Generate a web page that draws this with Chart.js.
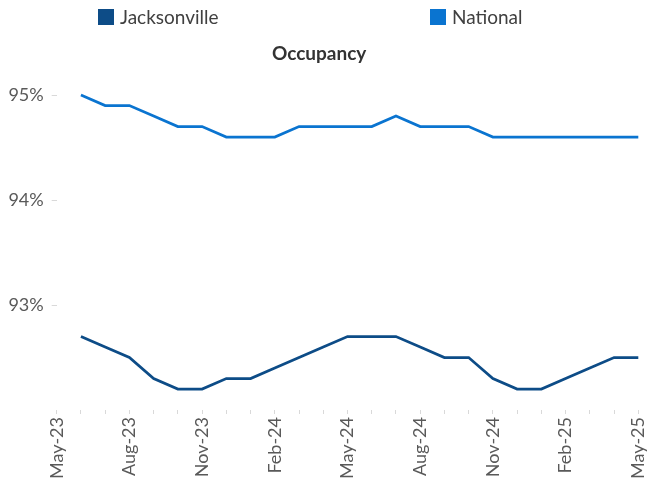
<!DOCTYPE html>
<html>
<head>
<meta charset="utf-8">
<script src="https://cdn.jsdelivr.net/npm/chart.js@4/dist/chart.umd.min.js"></script>
<style>
  html, body { margin: 0; padding: 0; background: #ffffff; }
  #wrap { width: 647px; height: 482px; position: relative; }
</style>
</head>
<body>
<div id="wrap"><canvas id="c" width="647" height="482"></canvas></div>
<script>
// ---- Data ----
const categories = ['May-23','Jun-23','Jul-23','Aug-23','Sep-23','Oct-23','Nov-23','Dec-23','Jan-24','Feb-24','Mar-24','Apr-24','May-24','Jun-24','Jul-24','Aug-24','Sep-24','Oct-24','Nov-24','Dec-24','Jan-25','Feb-25','Mar-25','Apr-25','May-25'];
const shownLabels = ['May-23','Aug-23','Nov-23','Feb-24','May-24','Aug-24','Nov-24','Feb-25','May-25'];
const jacksonville = [null, 92.7, 92.6, 92.5, 92.3, 92.2, 92.2, 92.3, 92.3, 92.4, 92.5, 92.6, 92.7, 92.7, 92.7, 92.6, 92.5, 92.5, 92.3, 92.2, 92.2, 92.3, 92.4, 92.5, 92.5];
const national     = [null, 95.0, 94.9, 94.9, 94.8, 94.7, 94.7, 94.6, 94.6, 94.6, 94.7, 94.7, 94.7, 94.7, 94.8, 94.7, 94.7, 94.7, 94.6, 94.6, 94.6, 94.6, 94.6, 94.6, 94.6];
const yTicks = [93, 94, 95];
const seriesNames = ['Jacksonville', 'National'];
const chartTitle = 'Occupancy';

const FONT = 'Lato, "Open Sans", sans-serif';
const colJax = '#0D4C87';
const colNat = '#0A74D0';

// custom legend placed like the reference (spread-out entries)
const spreadLegend = {
  id: 'spreadLegend',
  afterDraw(chart) {
    const ctx = chart.ctx;
    const xs = [98, 430];
    ctx.save();
    chart.data.datasets.forEach((ds, i) => {
      const x = xs[i];
      ctx.fillStyle = ds.borderColor;
      ctx.fillRect(x, 9, 16, 16);
      ctx.fillStyle = '#404040';
      ctx.font = '19px ' + FONT;
      ctx.textBaseline = 'middle';
      ctx.textAlign = 'left';
      ctx.fillText(ds.label, x + 22, 17.5);
    });
    ctx.restore();
  }
};

new Chart(document.getElementById('c'), {
  type: 'line',
  data: {
    labels: categories,
    datasets: [
      { label: seriesNames[0], data: jacksonville, borderColor: colJax, backgroundColor: colJax, borderWidth: 2.75, pointRadius: 0, tension: 0, spanGaps: false },
      { label: seriesNames[1], data: national, borderColor: colNat, backgroundColor: colNat, borderWidth: 2.75, pointRadius: 0, tension: 0, spanGaps: false }
    ]
  },
  options: {
    responsive: false,
    animation: false,
    devicePixelRatio: 1,
    layout: { padding: { top: 32, right: 8.7, bottom: 0, left: 0 } },
    plugins: {
      legend: { display: false },
      tooltip: { enabled: false },
      title: {
        display: true,
        text: chartTitle,
        color: '#333333',
        font: { family: FONT, size: 19, weight: 'bold', lineHeight: 1.2 },
        padding: { top: 10, bottom: 4 }
      }
    },
    scales: {
      x: {
        type: 'category',
        offset: false,
        border: { display: false },
        grid: { display: true, drawOnChartArea: false, drawTicks: true, tickLength: 4, color: '#d9d9d9' },
        ticks: {
          autoSkip: false,
          maxRotation: 90,
          minRotation: 90,
          padding: 3,
          color: '#595959',
          font: { family: FONT, size: 18 },
          callback: function(v, i) {
            const lab = categories[i];
            return shownLabels.includes(lab) ? lab : '';
          }
        },
        afterFit(scale) { scale.height = 72; scale.paddingLeft = 0; scale.paddingRight = 0; }
      },
      y: {
        type: 'linear',
        min: 92,
        max: 95.25,
        border: { display: false },
        grid: { display: true, drawOnChartArea: false, drawTicks: true, tickLength: 5, color: '#d9d9d9' },
        afterBuildTicks(scale) { scale.ticks = yTicks.map(v => ({ value: v })); },
        ticks: {
          padding: 8,
          color: '#595959',
          font: { family: FONT, size: 18 },
          callback: (v) => v + '%'
        },
        afterFit(scale) { scale.width = 56.7; }
      }
    }
  },
  plugins: [spreadLegend]
});
</script>
</body>
</html>
